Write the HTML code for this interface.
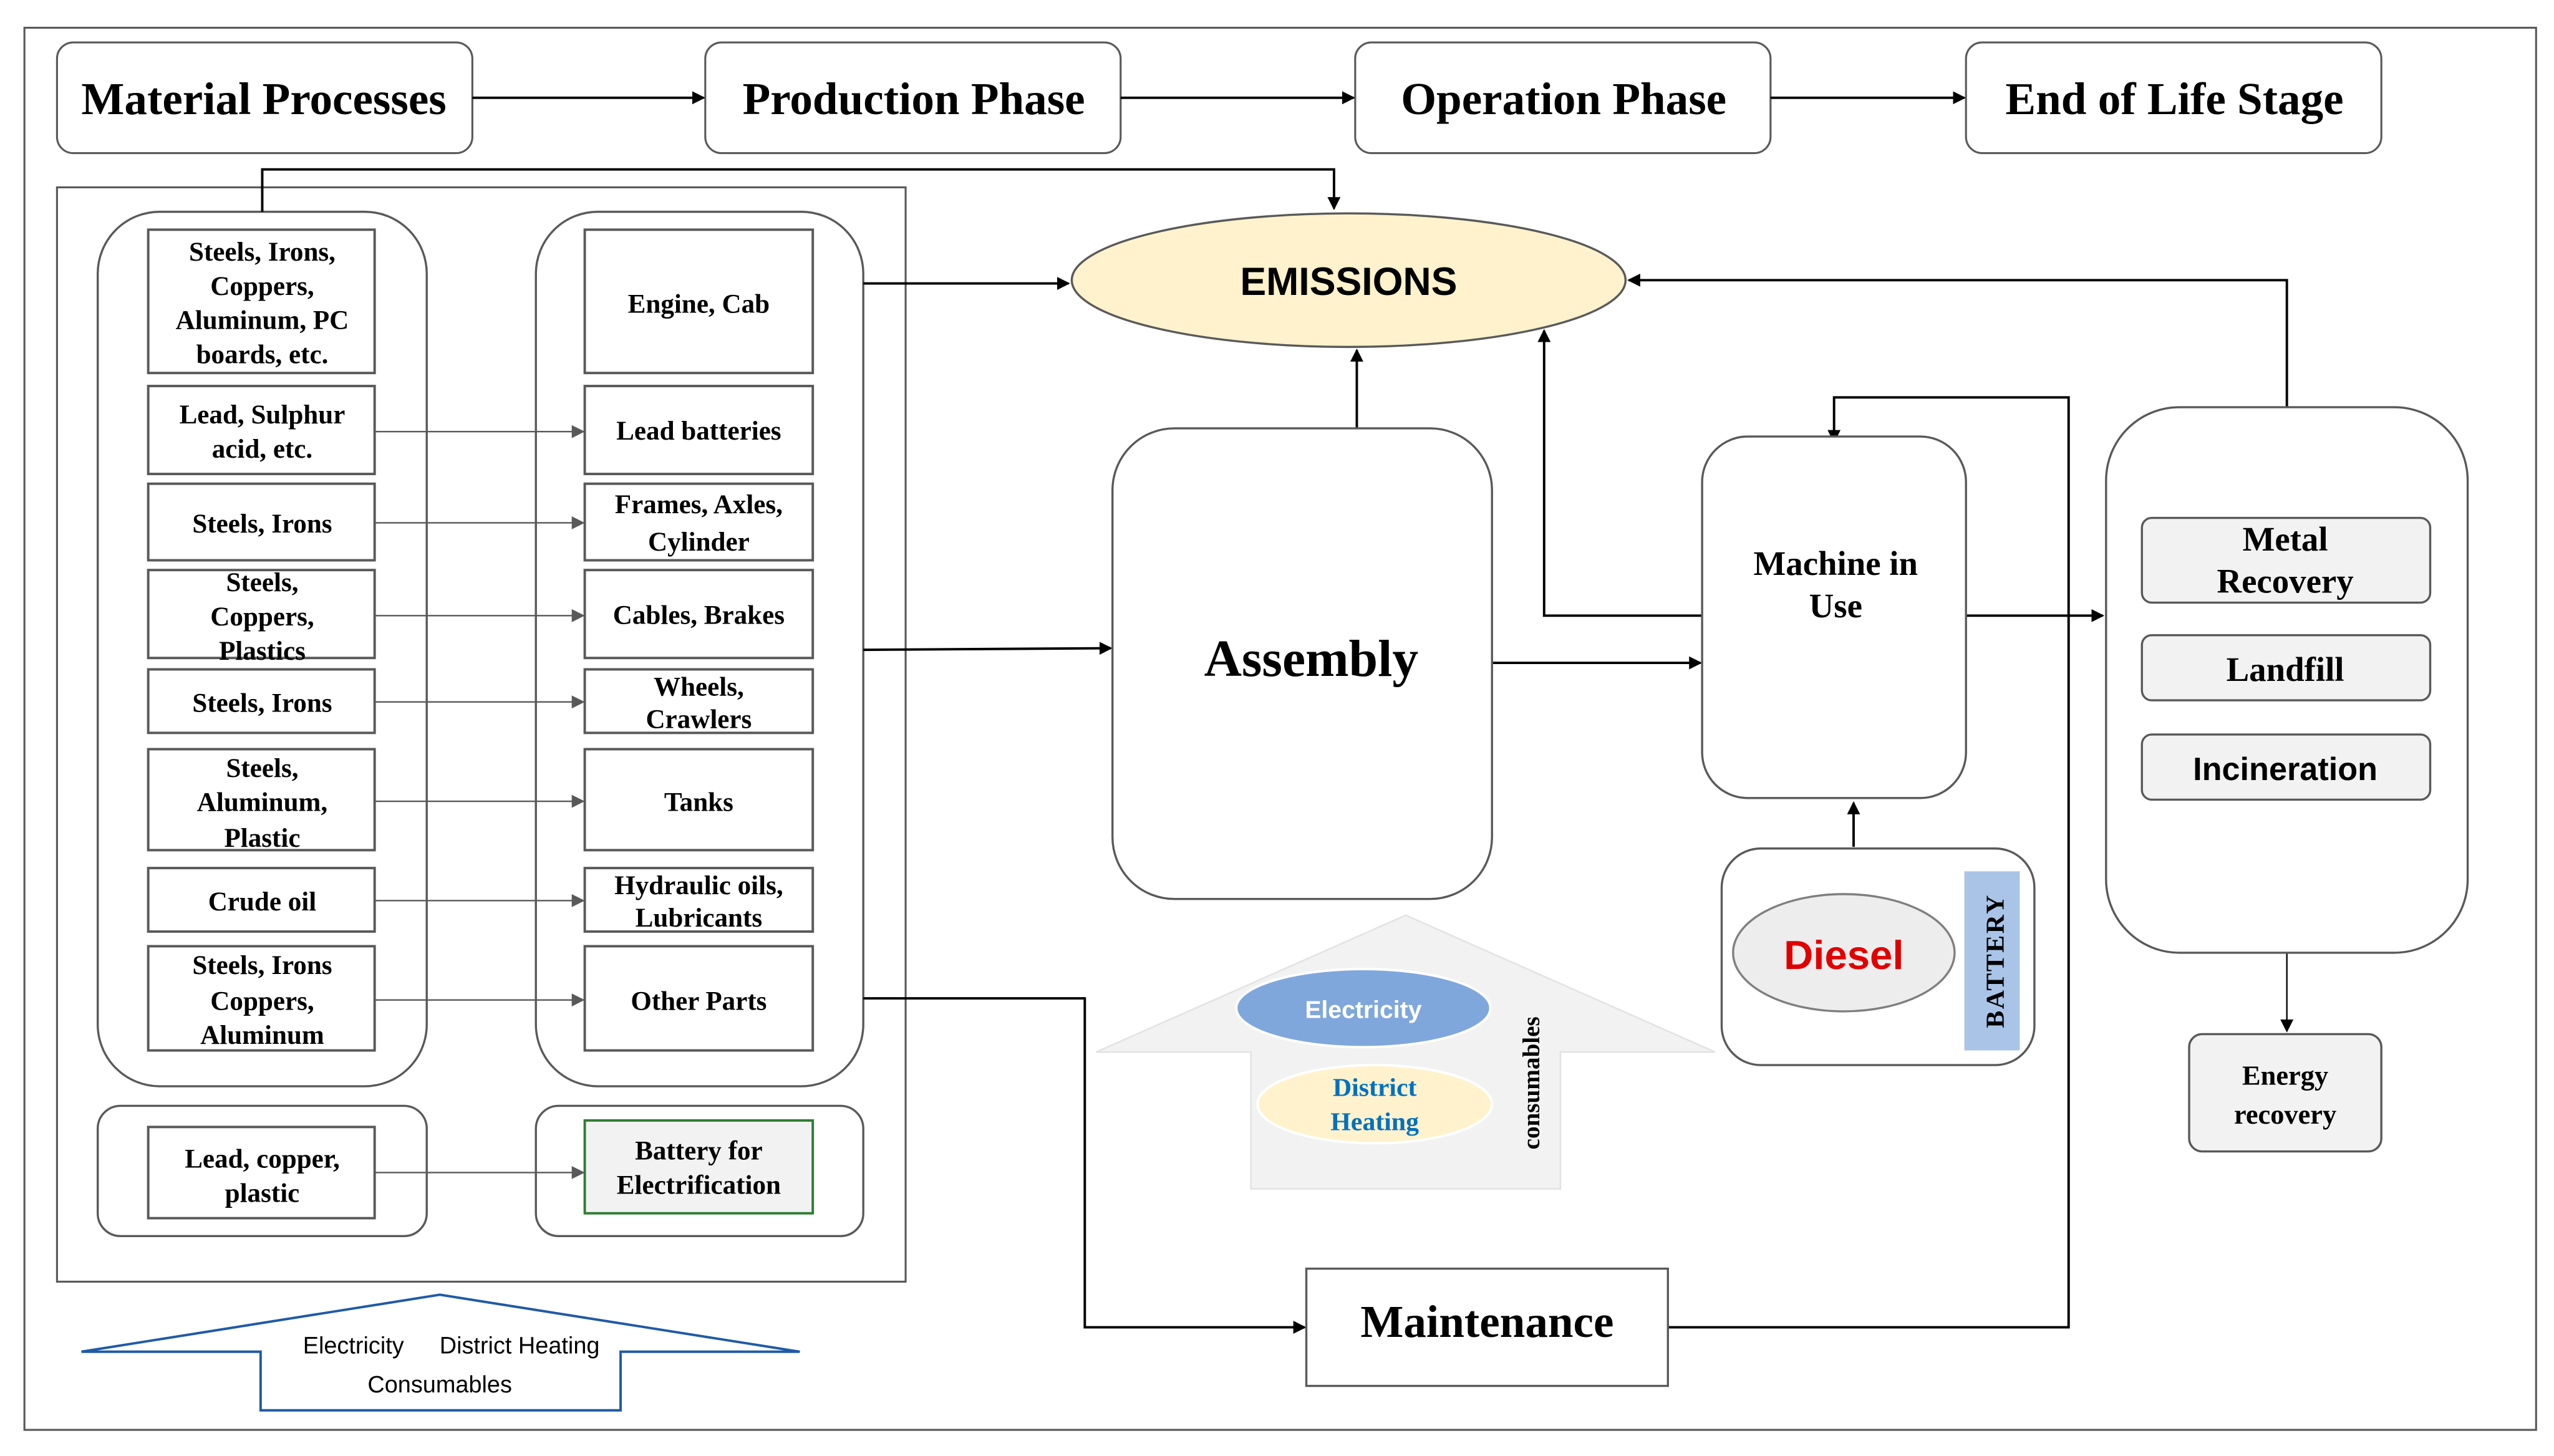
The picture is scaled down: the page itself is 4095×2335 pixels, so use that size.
<!DOCTYPE html>
<html><head><meta charset="utf-8"><style>html,body{margin:0;padding:0;background:#fff}svg{display:block}</style></head>
<body>
<svg width="4095" height="2335" viewBox="0 0 1568 894" xmlns="http://www.w3.org/2000/svg">
<defs>
<marker id="a" markerWidth="8" markerHeight="8" refX="7" refY="4" orient="auto" markerUnits="userSpaceOnUse"><path d="M0,0 L8,4 L0,8 z" fill="#000"/></marker>
<marker id="g" markerWidth="8" markerHeight="8" refX="7" refY="4" orient="auto" markerUnits="userSpaceOnUse"><path d="M0,0 L8,4 L0,8 z" fill="#595959"/></marker>
</defs>
<rect width="1568" height="894" fill="#fff"/>
<rect x="15" y="17" width="1542" height="861" fill="none" stroke="#595959" stroke-width="1.2"/>
<g font-family="Liberation Serif, serif" font-weight="bold" text-anchor="middle">
<g fill="#fff" stroke="#595959" stroke-width="1.2">
<rect x="35" y="26" width="255" height="68" rx="10"/>
<rect x="433" y="26" width="255" height="68" rx="10"/>
<rect x="832" y="26" width="255" height="68" rx="10"/>
<rect x="1207" y="26" width="255" height="68" rx="10"/>
</g>
<g font-size="28" fill="#000">
<text x="162" y="70">Material Processes</text>
<text x="561" y="70">Production Phase</text>
<text x="960" y="70">Operation Phase</text>
<text x="1335" y="70">End of Life Stage</text>
</g>
<g stroke="#000" stroke-width="1.5" fill="none" marker-end="url(#a)">
<line x1="290" y1="60" x2="432" y2="60"/>
<line x1="688" y1="60" x2="831" y2="60"/>
<line x1="1087" y1="60" x2="1206" y2="60"/>
</g>
<rect x="35" y="115" width="521" height="672" fill="none" stroke="#595959" stroke-width="1.2"/>
<g fill="none" stroke="#595959" stroke-width="1.3">
<rect x="60" y="130" width="202" height="537" rx="38"/>
<rect x="329" y="130" width="201" height="537" rx="38"/>
<rect x="60" y="679" width="202" height="80" rx="14"/>
<rect x="329" y="679" width="201" height="80" rx="14"/>
</g>
<g fill="#fff" stroke="#595959" stroke-width="1.5">
<rect x="91" y="141" width="139" height="88"/><rect x="359" y="141" width="140" height="88"/>
<rect x="91" y="237" width="139" height="54"/><rect x="359" y="237" width="140" height="54"/>
<rect x="91" y="297" width="139" height="47"/><rect x="359" y="297" width="140" height="47"/>
<rect x="91" y="350" width="139" height="54"/><rect x="359" y="350" width="140" height="54"/>
<rect x="91" y="411" width="139" height="39"/><rect x="359" y="411" width="140" height="39"/>
<rect x="91" y="460" width="139" height="62"/><rect x="359" y="460" width="140" height="62"/>
<rect x="91" y="533" width="139" height="39"/><rect x="359" y="533" width="140" height="39"/>
<rect x="91" y="581" width="139" height="64"/><rect x="359" y="581" width="140" height="64"/>
<rect x="91" y="692" width="139" height="56"/>
</g>
<rect x="359" y="688" width="140" height="57" fill="#f2f2f2" stroke="#2e7d32" stroke-width="1.5"/>
<g stroke="#595959" stroke-width="0.9" marker-end="url(#g)">
<line x1="230" y1="265" x2="358" y2="265"/>
<line x1="230" y1="321" x2="358" y2="321"/>
<line x1="230" y1="378" x2="358" y2="378"/>
<line x1="230" y1="431" x2="358" y2="431"/>
<line x1="230" y1="492" x2="358" y2="492"/>
<line x1="230" y1="553" x2="358" y2="553"/>
<line x1="230" y1="614" x2="358" y2="614"/>
<line x1="230" y1="720" x2="358" y2="720"/>
</g>
<g font-size="16.5" fill="#000">
<text x="161" y="160">Steels, Irons,</text><text x="161" y="181">Coppers,</text><text x="161" y="202">Aluminum, PC</text><text x="161" y="223">boards, etc.</text>
<text x="161" y="260">Lead, Sulphur</text><text x="161" y="281">acid, etc.</text>
<text x="161" y="327">Steels, Irons</text>
<text x="161" y="363">Steels,</text><text x="161" y="384">Coppers,</text><text x="161" y="405">Plastics</text>
<text x="161" y="437">Steels, Irons</text>
<text x="161" y="477">Steels,</text><text x="161" y="498">Aluminum,</text><text x="161" y="520">Plastic</text>
<text x="161" y="559">Crude oil</text>
<text x="161" y="598">Steels, Irons</text><text x="161" y="620">Coppers,</text><text x="161" y="641">Aluminum</text>
<text x="161" y="717">Lead, copper,</text><text x="161" y="738">plastic</text>
<text x="429" y="192">Engine, Cab</text>
<text x="429" y="270">Lead batteries</text>
<text x="429" y="315">Frames, Axles,</text><text x="429" y="338">Cylinder</text>
<text x="429" y="383">Cables, Brakes</text>
<text x="429" y="427">Wheels,</text><text x="429" y="447">Crawlers</text>
<text x="429" y="498">Tanks</text>
<text x="429" y="549">Hydraulic oils,</text><text x="429" y="569">Lubricants</text>
<text x="429" y="620">Other Parts</text>
<text x="429" y="712">Battery for</text><text x="429" y="733">Electrification</text>
</g>
<ellipse cx="828" cy="172" rx="170" ry="41" fill="#fff2cc" stroke="#595959" stroke-width="1.3"/>
<text x="828" y="181" font-family="Liberation Sans, sans-serif" font-size="24" fill="#000">EMISSIONS</text>
<g stroke="#000" stroke-width="1.5" fill="none">
<polyline points="161,130 161,104 819,104 819,128" marker-end="url(#a)"/>
<line x1="530" y1="174" x2="656" y2="174" marker-end="url(#a)"/>
<line x1="530" y1="399" x2="682" y2="398" marker-end="url(#a)"/>
<line x1="833" y1="263" x2="833" y2="215" marker-end="url(#a)"/>
<line x1="916" y1="407" x2="1044" y2="407" marker-end="url(#a)"/>
<polyline points="1045,378 948,378 948,203" marker-end="url(#a)"/>
<line x1="1207" y1="378" x2="1291" y2="378" marker-end="url(#a)"/>
<polyline points="1024,815 1270,815 1270,244 1126,244 1126,271" marker-end="url(#a)"/>
<polyline points="1404,250 1404,172 1000,172" marker-end="url(#a)"/>
<line x1="1138" y1="520" x2="1138" y2="493" marker-end="url(#a)"/>
<polyline points="530,613 666,613 666,815 801,815" marker-end="url(#a)"/>
</g>
<line x1="1404" y1="491" x2="1404" y2="633" stroke="#000" stroke-width="0.9" marker-end="url(#a)"/>
<rect x="683" y="263" width="233" height="289" rx="38" fill="#fff" stroke="#595959" stroke-width="1.3"/>
<text x="805" y="415" font-size="32" fill="#000">Assembly</text>
<rect x="1045" y="268" width="162" height="222" rx="28" fill="#fff" stroke="#595959" stroke-width="1.3"/>
<text x="1127" y="353" font-size="21" fill="#000">Machine in</text><text x="1127" y="379" font-size="21" fill="#000">Use</text>
<rect x="1293" y="250" width="222" height="335" rx="45" fill="#fff" stroke="#595959" stroke-width="1.3"/>
<g fill="#f2f2f2" stroke="#595959" stroke-width="1.3">
<rect x="1315" y="318" width="177" height="52" rx="6"/>
<rect x="1315" y="390" width="177" height="40" rx="6"/>
<rect x="1315" y="451" width="177" height="40" rx="6"/>
<rect x="1344" y="635" width="118" height="72" rx="8"/>
</g>
<text x="1403" y="338" font-size="21" fill="#000">Metal</text><text x="1403" y="364" font-size="21" fill="#000">Recovery</text>
<text x="1403" y="418" font-size="21" fill="#000">Landfill</text>
<text x="1403" y="479" font-size="20" font-family="Liberation Sans, sans-serif" fill="#000">Incineration</text>
<text x="1403" y="666" font-size="17" fill="#000">Energy</text><text x="1403" y="690" font-size="17" fill="#000">recovery</text>
<rect x="1057" y="521" width="192" height="133" rx="24" fill="#fff" stroke="#595959" stroke-width="1.3"/>
<ellipse cx="1132" cy="585" rx="68" ry="36" fill="#ededed" stroke="#7f7f7f" stroke-width="1.3"/>
<text x="1132" y="595" font-family="Liberation Sans, sans-serif" font-size="25" fill="#e00000">Diesel</text>
<rect x="1206" y="535" width="34" height="110" fill="#a9c4e6"/>
<text transform="translate(1230,590) rotate(-90)" font-size="16" fill="#000" letter-spacing="1">BATTERY</text>
<polygon points="863,562 1053,646 958,646 958,730 768,730 768,646 673,646" fill="#f2f2f2" stroke="#e3e3e3" stroke-width="1"/>
<ellipse cx="837" cy="619" rx="78" ry="24" fill="#7fa7dc" stroke="#fff" stroke-width="1.5"/>
<text x="837" y="625" font-family="Liberation Sans, sans-serif" font-size="15" fill="#fff">Electricity</text>
<ellipse cx="844" cy="678" rx="72" ry="24" fill="#fff2cc" stroke="#fff" stroke-width="1.5"/>
<text x="844" y="673" font-size="16" fill="#0070c0">District</text><text x="844" y="694" font-size="16" fill="#0070c0">Heating</text>
<text transform="translate(945,665) rotate(-90)" font-size="15" fill="#000">consumables</text>
<rect x="802" y="779" width="222" height="72" fill="#fff" stroke="#595959" stroke-width="1.3"/>
<text x="913" y="821" font-size="28" fill="#000">Maintenance</text>
<polygon points="270,795 491,830 381,830 381,866 160,866 160,830 50,830" fill="#fff" stroke="#1f5aa6" stroke-width="1.5"/>
<g font-family="Liberation Sans, sans-serif" font-weight="normal" font-size="14.5" fill="#000">
<text x="217" y="831">Electricity</text>
<text x="319" y="831">District Heating</text>
<text x="270" y="855">Consumables</text>
</g>
</g>
</svg>
</body></html>
